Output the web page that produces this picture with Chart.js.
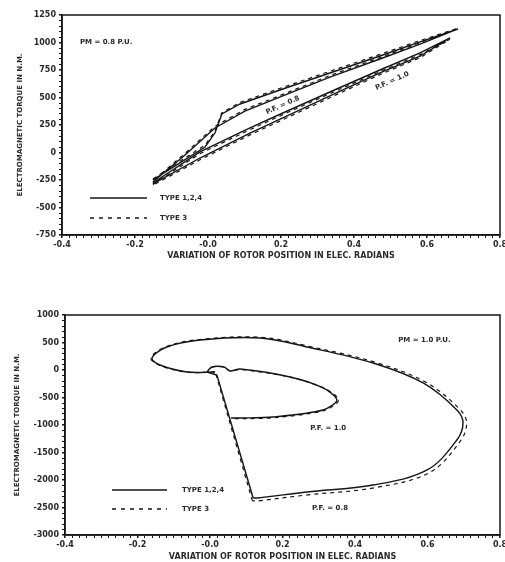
<!DOCTYPE html>
<html>
<head>
<meta charset="utf-8">
<script src="https://cdn.jsdelivr.net/npm/chart.js@4.4.1/dist/chart.umd.min.js"></script>
<style>
html, body { margin: 0; padding: 0; background: #fff; width: 505px; height: 562px; overflow: hidden; }
.box { position: absolute; left: 0; width: 520px; }
#topBox { top: 0; height: 270px; }
#botBox { top: 290px; height: 272px; }
</style>
</head>
<body>
<div class="box" id="topBox"><canvas id="topChart"></canvas></div>
<div class="box" id="botBox"><canvas id="botChart"></canvas></div>
<script>
// --- data ---
const legendLabels = ['TYPE 1,2,4', 'TYPE 3'];
const xTickValues = [-0.4, -0.2, 0.0, 0.2, 0.4, 0.6, 0.8];
const xTickLabels = ['-0.4', '-0.2', '-0.0', '0.2', '0.4', '0.6', '0.8'];
const topYTickValues = [-750, -500, -250, 0, 250, 500, 750, 1000, 1250];
const topYTickLabels = ['-750', '-500', '-250', '0', '250', '500', '750', '1000', '1250'];
const botYTickValues = [-3000, -2500, -2000, -1500, -1000, -500, 0, 500, 1000];
const botYTickLabels = ['-3000', '-2500', '-2000', '-1500', '-1000', '-500', '0', '500', '1000'];

// top chart: P.F. = 0.8 loop (wider, with knee)
const topA_x  = [-0.151, -0.077, -0.008, 0.019, 0.038, 0.088, 0.205, 0.334, 0.471, 0.581, 0.685, 0.581, 0.471, 0.334, 0.205, 0.101, 0.019, -0.063, -0.151];
const topA_y  = [-250, -95, 50, 177, 350, 441, 577, 723, 877, 1005, 1123, 986, 850, 686, 514, 377, 223, -23, -268];
const topA3_y = [-240, -80, 68, 195, 362, 455, 592, 738, 892, 1018, 1130, 998, 862, 700, 528, 392, 238, -8, -258];
// top chart: P.F. = 1.0 loop (narrow)
const topB_x  = [-0.151, -0.022, 0.115, 0.205, 0.334, 0.471, 0.581, 0.663, 0.581, 0.471, 0.334, 0.205, 0.115, -0.022, -0.151];
const topB_y  = [-277, 5, 223, 359, 550, 750, 905, 1041, 877, 723, 514, 314, 177, -50, -286];
const topB3_y = [-290, -10, 208, 344, 535, 735, 890, 1030, 862, 708, 498, 298, 160, -66, -298];

// bottom chart: P.F. = 0.8 swing
const botOut_x  = [0.014, -0.063, -0.138, -0.160, -0.119, -0.028, 0.138, 0.268, 0.450, 0.588, 0.681, 0.698, 0.681, 0.599, 0.450, 0.268, 0.132, 0.119];
const botOut_y  = [-36, -36, 91, 218, 418, 545, 582, 418, 127, -236, -727, -964, -1273, -1818, -2091, -2218, -2327, -2327];
const botOut3_x = [0.014, -0.063, -0.140, -0.163, -0.121, -0.028, 0.140, 0.272, 0.456, 0.596, 0.690, 0.708, 0.691, 0.607, 0.455, 0.270, 0.132, 0.117];
const botOut3_y = [-36, -40, 88, 218, 425, 555, 595, 432, 140, -225, -720, -964, -1290, -1860, -2140, -2270, -2380, -2380];
const botLine_x  = [0.119, 0.019];
const botLine_y  = [-2327, -91];
const botLine3_x = [0.117, 0.017];
const botLine3_y = [-2380, -91];
// bottom chart: P.F. = 1.0 swing
const botIn_x  = [0.019, -0.006, 0.006, 0.039, 0.055, 0.083, 0.221, 0.312, 0.350, 0.312, 0.174, 0.083, 0.058];
const botIn_y  = [-91, -36, 55, 55, -18, 18, -127, -327, -545, -727, -855, -873, -873];
const botIn3_x = [0.019, -0.006, 0.006, 0.039, 0.055, 0.085, 0.224, 0.316, 0.355, 0.316, 0.176, 0.083, 0.058];
const botIn3_y = [-91, -36, 55, 55, -18, 10, -135, -335, -545, -735, -868, -885, -885];

const INK = '#151515';
const TXT = '#2a2a2a';
const FONT = '"DejaVu Sans", sans-serif';

function pts(xs, ys) {
    return xs.map((x, i) => ({ x: x, y: ys[i] }));
}

function line(xs, ys, dashed, tension) {
    return {
        data: pts(xs, ys),
        showLine: true,
        pointRadius: 0,
        borderColor: INK,
        borderWidth: dashed ? 1.2 : 1.4,
        borderDash: dashed ? [4, 4] : [],
        tension: tension || 0,
        fill: false
    };
}

function labelFor(values, labels, v) {
    for (let i = 0; i < values.length; i++) {
        if (Math.abs(values[i] - v) < 1e-6) return labels[i];
    }
    return '';
}

// frame, in-plot notes and in-plot legend
const decorPlugin = {
    id: 'decor',
    afterDraw(chart, args, opts) {
        const { ctx, chartArea: a, scales } = chart;
        ctx.save();
        ctx.strokeStyle = INK;
        ctx.lineWidth = 1.5;
        ctx.strokeRect(a.left, a.top, a.right - a.left, a.bottom - a.top);

        ctx.fillStyle = TXT;
        ctx.font = 'bold 7px ' + FONT;
        opts.notes.forEach(n => {
            ctx.save();
            ctx.translate(scales.x.getPixelForValue(n.x), scales.y.getPixelForValue(n.y));
            ctx.rotate((n.angle || 0) * Math.PI / 180);
            ctx.textAlign = n.align || 'center';
            ctx.textBaseline = 'middle';
            ctx.fillText(n.text, 0, 0);
            ctx.restore();
        });

        const lg = opts.legend;
        legendLabels.forEach((t, i) => {
            const yy = a.bottom + lg.dy[i];
            ctx.beginPath();
            ctx.setLineDash(i === 0 ? [] : [4, 5]);
            ctx.lineWidth = 1.4;
            ctx.moveTo(a.left + lg.x0, yy);
            ctx.lineTo(a.left + lg.x1, yy);
            ctx.stroke();
            ctx.setLineDash([]);
            ctx.textAlign = 'left';
            ctx.textBaseline = 'middle';
            ctx.fillText(t, a.left + lg.tx, yy);
        });
        ctx.restore();
    }
};

function makeChart(id, datasets, cfg) {
    const ctx = document.getElementById(id).getContext('2d');
    return new Chart(ctx, {
        type: 'scatter',
        data: { datasets: datasets },
        options: {
            responsive: true,
            maintainAspectRatio: false,
            animation: false,
            layout: { padding: { top: cfg.padTop, right: 20, left: 0, bottom: 0 } },
            scales: {
                x: {
                    type: 'linear',
                    min: -0.4, max: 0.8,
                    afterFit: s => { s.height = cfg.xHeight; },
                    border: { display: true, color: INK, width: 1.5 },
                    grid: {
                        drawOnChartArea: false, drawTicks: true, tickLength: 3, color: INK,
                        lineWidth: c => labelFor(xTickValues, xTickLabels, c.tick.value) ? 1.5 : 1
                    },
                    ticks: {
                        stepSize: 0.02, autoSkip: false, maxRotation: 0, padding: 2,
                        color: TXT, font: { family: FONT, size: 8, weight: 'bold' },
                        callback: v => labelFor(xTickValues, xTickLabels, v)
                    },
                    title: {
                        display: true,
                        text: 'VARIATION OF ROTOR POSITION IN ELEC. RADIANS',
                        color: TXT,
                        font: { family: FONT, size: 8, weight: 'bold' },
                        padding: { top: 0, bottom: cfg.xTitlePad }
                    }
                },
                y: {
                    type: 'linear',
                    min: cfg.yMin, max: cfg.yMax,
                    afterFit: s => { s.width = cfg.yWidth; },
                    border: { display: true, color: INK, width: 1.5 },
                    grid: {
                        drawOnChartArea: false, drawTicks: true, tickLength: 3, color: INK,
                        lineWidth: c => labelFor(cfg.yVals, cfg.yLabels, c.tick.value) ? 1.5 : 1
                    },
                    ticks: {
                        stepSize: cfg.yStep, autoSkip: false, padding: 3,
                        color: TXT, font: { family: FONT, size: 8, weight: 'bold' },
                        callback: v => labelFor(cfg.yVals, cfg.yLabels, v)
                    },
                    title: {
                        display: true,
                        text: 'ELECTROMAGNETIC TORQUE IN N.M.',
                        color: TXT,
                        font: { family: FONT, size: 7, weight: 'bold' },
                        padding: { top: cfg.yTitlePad, bottom: 0 }
                    }
                }
            },
            plugins: {
                legend: { display: false },
                tooltip: { enabled: false },
                decor: { notes: cfg.notes, legend: cfg.legend }
            }
        },
        plugins: [decorPlugin]
    });
}

makeChart('topChart', [
    line(topA_x, topA_y, false),
    line(topA_x, topA3_y, true),
    line(topB_x, topB_y, false),
    line(topB_x, topB3_y, true)
], {
    padTop: 15, xHeight: 35, yWidth: 62, xTitlePad: 9, yTitlePad: 16,
    yMin: -750, yMax: 1250, yStep: 50,
    yVals: topYTickValues, yLabels: topYTickLabels,
    notes: [
        { text: 'PM = 0.8 P.U.', x: -0.351, y: 1005, align: 'left' },
        { text: 'P.F. = 0.8', x: 0.205, y: 430, angle: -24 },
        { text: 'P.F. = 1.0', x: 0.505, y: 650, angle: -24 }
    ],
    legend: { x0: 28, x1: 85, tx: 98, dy: [-37, -17] }
});

makeChart('botChart', [
    line(botOut_x, botOut_y, false, 0.35),
    line(botOut3_x, botOut3_y, true, 0.35),
    line(botLine_x, botLine_y, false),
    line(botLine3_x, botLine3_y, true),
    line(botIn_x, botIn_y, false, 0.3),
    line(botIn3_x, botIn3_y, true, 0.3)
], {
    padTop: 25, xHeight: 27, yWidth: 65, xTitlePad: 0, yTitlePad: 13,
    yMin: -3000, yMax: 1000, yStep: 100,
    yVals: botYTickValues, yLabels: botYTickLabels,
    notes: [
        { text: 'PM = 1.0 P.U.', x: 0.519, y: 545, align: 'left' },
        { text: 'P.F. = 1.0', x: 0.326, y: -1055 },
        { text: 'P.F. = 0.8', x: 0.331, y: -2509 }
    ],
    legend: { x0: 47, x1: 102, tx: 117, dy: [-45, -26] }
});
</script>
</body>
</html>
